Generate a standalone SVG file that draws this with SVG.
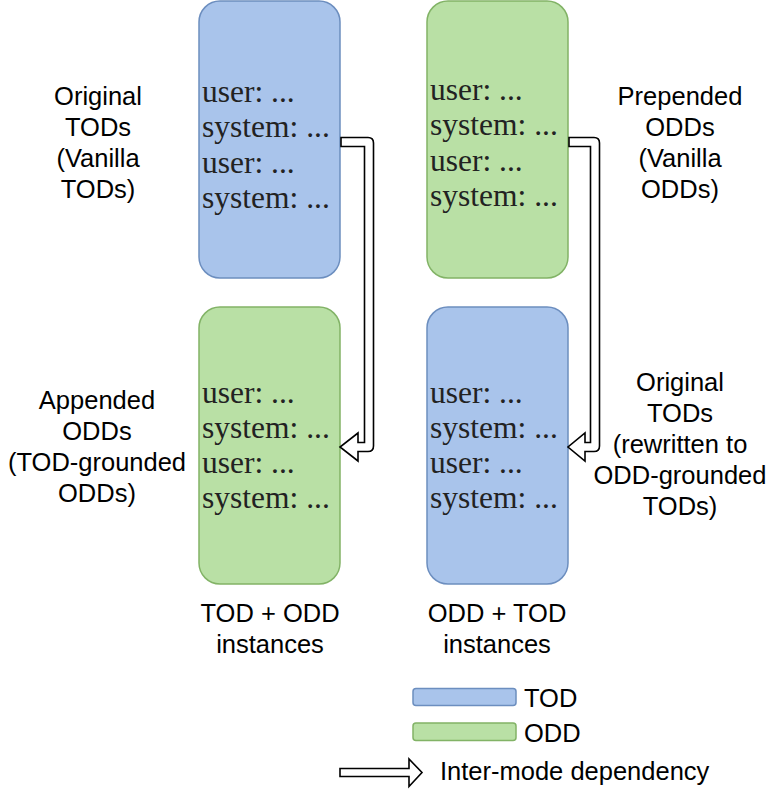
<svg xmlns="http://www.w3.org/2000/svg" width="769" height="789" viewBox="0 0 769 789">
  <style>
    .tod { fill: #A9C4EB; stroke: #6C8EBF; stroke-width: 1.5; }
    .odd { fill: #B9E0A5; stroke: #82B366; stroke-width: 1.5; }
    .dlg { font-family: "Liberation Serif", "Times New Roman", serif; font-size: 31.5px; fill: #222; }
    .lbl { font-family: "Liberation Sans", Arial, sans-serif; font-size: 25.5px; fill: #000; text-anchor: middle; }
    .leg { font-family: "Liberation Sans", Arial, sans-serif; font-size: 25.5px; fill: #000; }
    .arr { fill: #fff; stroke: #000; stroke-width: 1.6; stroke-linejoin: miter; }
  </style>
  <rect width="769" height="789" fill="#fff"/>

  <g id="box-tod-1">
    <rect class="tod" x="199" y="1" width="141" height="277" rx="21"/>
    <text class="dlg" x="202" y="102">user: ...</text>
    <text class="dlg" x="202" y="137">system: ...</text>
    <text class="dlg" x="202" y="173">user: ...</text>
    <text class="dlg" x="202" y="208">system: ...</text>
  </g>
  <g id="box-odd-2">
    <rect class="odd" x="199" y="307" width="141" height="277" rx="21"/>
    <text class="dlg" x="202" y="403">user: ...</text>
    <text class="dlg" x="202" y="438">system: ...</text>
    <text class="dlg" x="202" y="473">user: ...</text>
    <text class="dlg" x="202" y="508">system: ...</text>
  </g>
  <g id="box-odd-3">
    <rect class="odd" x="427" y="1" width="141" height="277" rx="21"/>
    <text class="dlg" x="430" y="100">user: ...</text>
    <text class="dlg" x="430" y="135">system: ...</text>
    <text class="dlg" x="430" y="171">user: ...</text>
    <text class="dlg" x="430" y="206">system: ...</text>
  </g>
  <g id="box-tod-4">
    <rect class="tod" x="427" y="307" width="141" height="277" rx="21"/>
    <text class="dlg" x="430" y="403">user: ...</text>
    <text class="dlg" x="430" y="438">system: ...</text>
    <text class="dlg" x="430" y="473">user: ...</text>
    <text class="dlg" x="430" y="508">system: ...</text>
  </g>

  <g id="connectors">
    <path class="arr" d="M341,137.5 H368 Q373.5,137.5 373.5,143 V446 Q373.5,451.5 368,451.5 H358 V461 L340,447 L358,433 V442.5 H364.5 V146.5 H341 Z"/>
    <path class="arr" d="M569,137.5 H594 Q599.5,137.5 599.5,143 V446 Q599.5,451.5 594,451.5 H585 V461 L568,447 L585,433 V442.5 H590.5 V146.5 H569 Z"/>
  </g>

  <g id="label-original-tods">
    <text class="lbl" x="98" y="105">Original</text>
    <text class="lbl" x="98" y="136">TODs</text>
    <text class="lbl" x="98" y="167">(Vanilla</text>
    <text class="lbl" x="98" y="198">TODs)</text>
  </g>
  <g id="label-prepended-odds">
    <text class="lbl" x="680" y="105">Prepended</text>
    <text class="lbl" x="680" y="136">ODDs</text>
    <text class="lbl" x="680" y="167">(Vanilla</text>
    <text class="lbl" x="680" y="198">ODDs)</text>
  </g>
  <g id="label-appended-odds">
    <text class="lbl" x="97" y="409">Appended</text>
    <text class="lbl" x="97" y="440">ODDs</text>
    <text class="lbl" x="97" y="471">(TOD-grounded</text>
    <text class="lbl" x="97" y="502">ODDs)</text>
  </g>
  <g id="label-original-rewritten">
    <text class="lbl" x="680" y="391">Original</text>
    <text class="lbl" x="680" y="422">TODs</text>
    <text class="lbl" x="680" y="453">(rewritten to</text>
    <text class="lbl" x="680" y="484">ODD-grounded</text>
    <text class="lbl" x="680" y="515">TODs)</text>
  </g>
  <g id="label-tod-odd">
    <text class="lbl" x="270" y="622">TOD + ODD</text>
    <text class="lbl" x="270" y="653">instances</text>
  </g>
  <g id="label-odd-tod">
    <text class="lbl" x="497" y="622">ODD + TOD</text>
    <text class="lbl" x="497" y="653">instances</text>
  </g>

  <g id="legend">
    <rect class="tod" x="413" y="688.5" width="103" height="17" rx="3"/>
    <text class="leg" x="524" y="707">TOD</text>
    <rect class="odd" x="413" y="723" width="103" height="17.5" rx="3"/>
    <text class="leg" x="524" y="742">ODD</text>
    <path class="arr" d="M340,768.5 H409 V759 L422,772.5 L409,786.5 V776.5 H340 Z"/>
    <text class="leg" x="440" y="780">Inter-mode dependency</text>
  </g>
</svg>
